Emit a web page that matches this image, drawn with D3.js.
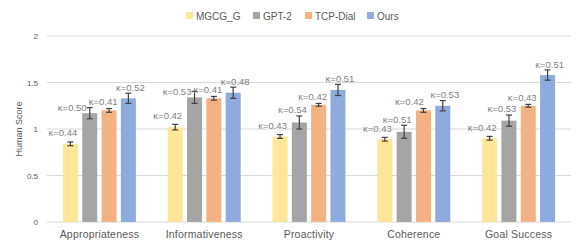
<!DOCTYPE html>
<html>
<head>
<meta charset="utf-8">
<script src="https://cdn.jsdelivr.net/npm/d3@7"></script>
<style>
  body { margin: 0; background: #fff; }
  text { font-family: "Liberation Sans", Arial, sans-serif; }
</style>
</head>
<body>
<svg id="drawing_region"></svg>
<script>
// categories / series
const categories = ['Appropriateness', 'Informativeness', 'Proactivity', 'Coherence', 'Goal Success'];
const series = ['MGCG_G', 'GPT-2', 'TCP-Dial', 'Ours'];

// mean human score, one array per series (order = categories)
const mgcgScore = [0.84, 1.02, 0.92, 0.89, 0.90];
const gpt2Score = [1.17, 1.34, 1.07, 0.97, 1.09];
const tcpScore  = [1.20, 1.33, 1.26, 1.20, 1.25];
const oursScore = [1.33, 1.39, 1.42, 1.25, 1.58];

// error bar half heights
const mgcgErr = [0.02, 0.03, 0.02, 0.02, 0.02];
const gpt2Err = [0.06, 0.065, 0.07, 0.07, 0.06];
const tcpErr  = [0.02, 0.02, 0.015, 0.02, 0.015];
const oursErr = [0.055, 0.06, 0.06, 0.055, 0.055];

// fleiss kappa labels
const mgcgKappa = [0.44, 0.42, 0.43, 0.43, 0.42];
const gpt2Kappa = [0.50, 0.53, 0.54, 0.51, 0.53];
const tcpKappa  = [0.41, 0.41, 0.42, 0.42, 0.43];
const oursKappa = [0.52, 0.48, 0.51, 0.53, 0.51];

const yTicks = [0, 0.5, 1, 1.5, 2];

const scores = [mgcgScore, gpt2Score, tcpScore, oursScore];
const errs = [mgcgErr, gpt2Err, tcpErr, oursErr];
const kappas = [mgcgKappa, gpt2Kappa, tcpKappa, oursKappa];

const colors = ['#FFE699', '#A5A5A5', '#F4B183', '#8FAADC'];

// label placement, roughly as in the original figure
const labelDx = [-7.5, -7, -6, 2];
const labelDy = [-9, -6, -7, -5.5];

const data = [];
categories.forEach((c, i) => {
    series.forEach((s, j) => {
        data.push({cat: c, ser: s, si: j, ci: i, value: scores[j][i], err: errs[j][i], kappa: kappas[j][i]});
    });
});

const config = {
    width: 581,
    height: 250,
    margin: {top: 36, right: 10, bottom: 28, left: 47}
};

const svg = d3.select('#drawing_region')
    .attr('width', config.width)
    .attr('height', config.height);

const inner_width = config.width - config.margin.left - config.margin.right;
const inner_height = config.height - config.margin.top - config.margin.bottom;

const chart = svg.append('g')
    .attr('transform', `translate(${config.margin.left}, ${config.margin.top})`);

const xscale = d3.scaleBand()
    .domain(categories)
    .range([0, inner_width]);

const xinner = d3.scaleBand()
    .domain(series)
    .range([0, xscale.bandwidth()])
    .paddingInner(0.223)
    .paddingOuter(0.824);

const yscale = d3.scaleLinear()
    .domain([0, 2])
    .range([inner_height, 0]);

// grid lines
chart.append('g')
    .selectAll('line')
    .data(yTicks)
    .join('line')
    .attr('x1', 0)
    .attr('x2', inner_width)
    .attr('y1', d => yscale(d))
    .attr('y2', d => yscale(d))
    .attr('stroke', '#d9d9d9')
    .attr('stroke-width', 1);

// y axis labels
const yaxis = d3.axisLeft(yscale)
    .tickValues(yTicks)
    .tickFormat(d => d3.format('~g')(d))
    .tickSize(0)
    .tickPadding(9);

const yaxis_group = chart.append('g').call(yaxis);
yaxis_group.select('.domain').remove();
yaxis_group.selectAll('text')
    .attr('fill', '#595959')
    .style('font-size', '8px');

// x axis labels
const xaxis = d3.axisBottom(xscale)
    .tickSize(0)
    .tickPadding(9);

const xaxis_group = chart.append('g')
    .attr('transform', `translate(0, ${inner_height})`)
    .call(xaxis);
xaxis_group.select('.domain').remove();
xaxis_group.selectAll('text')
    .attr('fill', '#595959')
    .style('font-size', '10.5px')
    .style('letter-spacing', '0.2px');

// bars
const groups = chart.selectAll('.grp')
    .data(data)
    .join('g')
    .attr('class', 'grp')
    .attr('transform', d => `translate(${xscale(d.cat) + xinner(d.ser)}, 0)`);

groups.append('rect')
    .attr('x', 0)
    .attr('y', d => yscale(d.value))
    .attr('width', xinner.bandwidth())
    .attr('height', d => yscale(0) - yscale(d.value))
    .attr('fill', d => colors[d.si]);

// error bars
const bw = xinner.bandwidth();
const cap = 3;
groups.append('line')
    .attr('x1', bw / 2).attr('x2', bw / 2)
    .attr('y1', d => yscale(d.value + d.err))
    .attr('y2', d => yscale(d.value - d.err))
    .attr('stroke', '#404040').attr('stroke-width', 1.2);
groups.append('line')
    .attr('x1', bw / 2 - cap).attr('x2', bw / 2 + cap)
    .attr('y1', d => yscale(d.value + d.err))
    .attr('y2', d => yscale(d.value + d.err))
    .attr('stroke', '#404040').attr('stroke-width', 1.2);
groups.append('line')
    .attr('x1', bw / 2 - cap).attr('x2', bw / 2 + cap)
    .attr('y1', d => yscale(d.value - d.err))
    .attr('y2', d => yscale(d.value - d.err))
    .attr('stroke', '#404040').attr('stroke-width', 1.2);

// kappa labels
function lblDx(d) {
    // GPT-2 labels moved to the left of the cap where they would collide
    if (d.si === 1 && d.ci < 2) return -17.5;
    if (d.si === 2 && d.ci === 3) return -14;
    return labelDx[d.si];
}
function lblDy(d) {
    if (d.si === 1 && d.ci < 2) return 0;
    return labelDy[d.si];
}
groups.append('text')
    .attr('x', d => bw / 2 + lblDx(d))
    .attr('y', d => yscale(d.value + d.err) + lblDy(d))
    .attr('dy', '0.35em')
    .attr('text-anchor', 'middle')
    .attr('fill', '#7f7f7f')
    .style('font-size', '9.5px')
    .text(d => '\u03BA=' + d.kappa.toFixed(2));

// y axis title
svg.append('text')
    .attr('transform', `translate(22, ${config.margin.top + inner_height / 2}) rotate(-90)`)
    .attr('text-anchor', 'middle')
    .attr('fill', '#595959')
    .style('font-size', '9px')
    .text('Human Score');

// legend
const legendX = [186, 253, 305, 367];
const legend = svg.append('g')
    .selectAll('g')
    .data(series)
    .join('g')
    .attr('transform', (d, i) => `translate(${legendX[i]}, 12)`);
legend.append('rect')
    .attr('width', 7).attr('height', 7)
    .attr('fill', (d, i) => colors[i]);
legend.append('text')
    .attr('x', 10)
    .attr('y', 7.5)
    .attr('fill', '#595959')
    .style('font-size', '10px')
    .text(d => d);
</script>
</body>
</html>
